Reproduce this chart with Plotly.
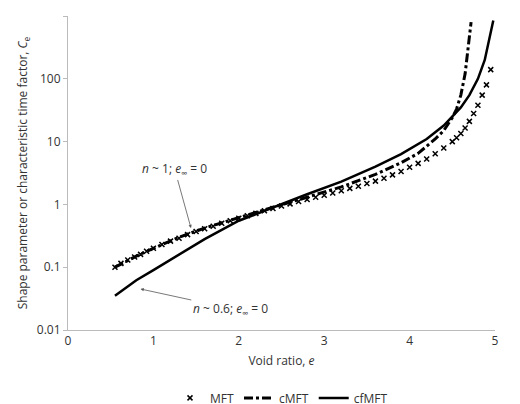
import numpy as np
import plotly.graph_objects as go

# MFT (cross markers)
mft_e = [0.55, 0.62, 0.7, 0.78, 0.85, 0.92, 1.0, 1.1, 1.2, 1.3, 1.4, 1.5, 1.6, 1.7, 1.8, 1.9,
         2.0, 2.1, 2.2, 2.3, 2.4, 2.5, 2.6, 2.7, 2.8, 2.9, 3.0, 3.1, 3.2, 3.3, 3.4, 3.5,
         3.6, 3.7, 3.8, 3.9, 4.0, 4.1, 4.2, 4.3, 4.4, 4.5, 4.55, 4.6, 4.65, 4.7, 4.75,
         4.8, 4.85, 4.9, 4.95]
mft_c = [0.1, 0.115, 0.13, 0.145, 0.16, 0.18, 0.2, 0.23, 0.26, 0.29, 0.33, 0.37, 0.41, 0.45,
         0.5, 0.55, 0.6, 0.66, 0.72, 0.79, 0.86, 0.94, 1.02, 1.11, 1.2, 1.3, 1.4, 1.52,
         1.65, 1.8, 1.95, 2.15, 2.35, 2.6, 2.95, 3.35, 3.9, 4.5, 5.3, 6.4, 7.9, 10, 11.5,
         13.5, 16.5, 21, 28, 38, 55, 80, 140]
# cMFT (dash-dot)
cmft_e = [0.55, 0.8, 1.0, 1.3, 1.6, 2.0, 2.4, 2.8, 3.2, 3.6, 3.9, 4.1, 4.3, 4.4, 4.5, 4.55, 4.6, 4.65, 4.68, 4.7, 4.72]
cmft_c = [0.1, 0.15, 0.2, 0.3, 0.42, 0.62, 0.9, 1.3, 1.9, 3.0, 4.6, 6.5, 11, 15, 24, 33, 55, 120, 250, 500, 800]
# cfMFT (solid)
cfmft_e = [0.55, 0.8, 1.0, 1.3, 1.6, 2.0, 2.4, 2.8, 3.2, 3.6, 3.9, 4.2, 4.4, 4.6, 4.7, 4.8, 4.88, 4.94, 4.98]
cfmft_c = [0.035, 0.062, 0.09, 0.16, 0.28, 0.55, 0.9, 1.45, 2.3, 4.0, 6.3, 11, 18, 35, 55, 100, 200, 450, 850]

font = "Open Sans, DejaVu Sans, sans-serif"
fig = go.Figure()
fig.add_trace(go.Scatter(x=mft_e, y=mft_c, mode="markers", name="MFT",
                         marker=dict(symbol="x-thin", size=5, color="black",
                                     line=dict(width=1.5, color="black"))))
fig.add_trace(go.Scatter(x=cmft_e, y=cmft_c, mode="lines", name="cMFT",
                         line=dict(color="black", width=3, dash="dashdot")))
fig.add_trace(go.Scatter(x=cfmft_e, y=cfmft_c, mode="lines", name="cfMFT",
                         line=dict(color="black", width=2.5)))

fig.add_annotation(x=1.44, y=np.log10(0.42), ax=1.25, ay=np.log10(3.6), axref="x", ayref="y",
                   text="<i>n</i> ~ 1; <i>e</i><sub>∞</sub> = 0", showarrow=True,
                   arrowhead=2, arrowsize=0.8, arrowwidth=0.8, arrowcolor="#555",
                   font=dict(size=12, color="#333"))
fig.add_annotation(x=0.85, y=np.log10(0.045), ax=1.9, ay=np.log10(0.022), axref="x", ayref="y",
                   text="<i>n</i> ~ 0.6; <i>e</i><sub>∞</sub> = 0", showarrow=True,
                   arrowhead=2, arrowsize=0.8, arrowwidth=0.8, arrowcolor="#555",
                   font=dict(size=12, color="#333"))

fig.update_layout(
    width=520, height=404, margin=dict(l=60, r=33, t=8, b=82, autoexpand=False),
    plot_bgcolor="white", paper_bgcolor="white",
    font=dict(family=font, size=12, color="#333"),
    legend=dict(orientation="h", x=0.5, xanchor="center", y=-0.17, yanchor="top",
                font=dict(size=12)),
    xaxis=dict(range=[0, 5], dtick=1, showline=True, linecolor="#bbb", showgrid=False,
               ticks="", zeroline=False,
               title=dict(text="Void ratio, <i>e</i>", font=dict(size=12), standoff=8)),
    yaxis=dict(type="log", range=[-2, 3], showline=True, linecolor="#bbb", showgrid=False,
               ticks="outside", ticklen=4, tickcolor="#bbb",
               tickvals=[0.01, 0.1, 1, 10, 100, 1000],
               ticktext=["0.01", "0.1", "1", "10", "100", "1000"],
               title=dict(text="Shape parameter or characteristic time factor, <i>C</i><sub>e</sub>",
                          font=dict(size=12), standoff=6)),
)
fig.write_html("out.html")
